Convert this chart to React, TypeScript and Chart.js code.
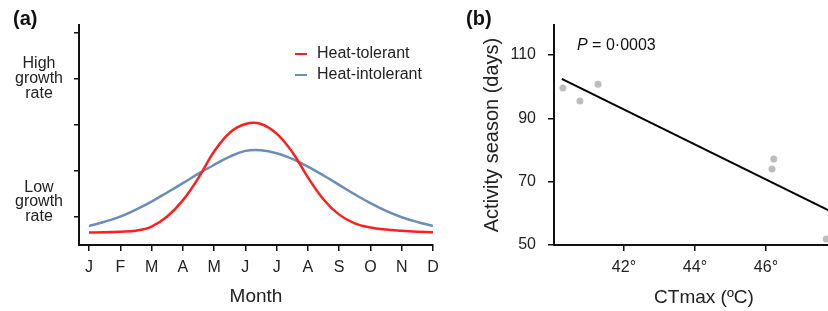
import React, { useEffect, useRef } from 'react';
import { Chart, registerables } from 'chart.js';

Chart.register(...registerables);

// ---------- Panel (a) data ----------
const months = ['J', 'F', 'M', 'A', 'M', 'J', 'J', 'A', 'S', 'O', 'N', 'D'];
const growthTickValues = [1, 2, 3, 4, 5];
const highLabel = ['High', 'growth', 'rate'];
const lowLabel = ['Low', 'growth', 'rate', '', ''];

const curveMonth = [0, 0.5, 1, 1.5, 2, 2.5, 3, 3.5, 4, 4.5, 5, 5.5, 6, 6.5, 7, 7.5, 8, 8.5, 9, 9.5, 10, 10.5, 11];
const tolerantRate = [0.66, 0.667, 0.68, 0.7, 0.79, 1.01, 1.36, 1.85, 2.42, 2.83, 3.02, 3.02, 2.81, 2.41, 1.86, 1.38, 1.05, 0.86, 0.77, 0.725, 0.7, 0.68, 0.665];
const intolerantRate = [0.804, 0.895, 1.007, 1.16, 1.333, 1.53, 1.733, 1.94, 2.13, 2.31, 2.435, 2.45, 2.385, 2.26, 2.093, 1.9, 1.696, 1.49, 1.298, 1.13, 0.993, 0.89, 0.804];

// ---------- Panel (b) data ----------
const ctmax = [40.28, 40.76, 41.27, 46.17, 46.22, 47.7];
const season = [99.6, 95.5, 100.8, 74.0, 77.2, 51.9];
const fitX = [40.25, 48.48];
const fitY = [102.5, 57.0];
const ctmaxTicks = [42, 44, 46];
const seasonTicks = [50, 70, 90, 110];

const FONT = "'Liberation Sans', Arial, Helvetica, sans-serif";
const TXT = '#222';
const RED = '#ff1e1e';
const BLUE = '#6a8dbb';

function panelLabel(text: string, x: number, y: number) {
  return {
    id: 'panelLabel' + text,
    afterDraw(chart: any) {
      const ctx = chart.ctx;
      ctx.save();
      ctx.fillStyle = '#111';
      ctx.font = `bold 20px ${FONT}`;
      ctx.textAlign = 'left';
      ctx.textBaseline = 'middle';
      ctx.fillText(text, x, y);
      ctx.restore();
    },
  };
}

const legendPlugin = {
  id: 'inlineLegend',
  afterDraw(chart: any) {
    const ctx = chart.ctx;
    const ca = chart.chartArea;
    ctx.save();
    chart.data.datasets.forEach((ds: any, i: number) => {
      const y = ca.top + 29 + i * 21;
      const x0 = ca.left + 216;
      ctx.strokeStyle = ds.borderColor;
      ctx.lineWidth = 2;
      ctx.beginPath();
      ctx.moveTo(x0, y);
      ctx.lineTo(x0 + 12, y);
      ctx.stroke();
      ctx.fillStyle = TXT;
      ctx.font = `16px ${FONT}`;
      ctx.textAlign = 'left';
      ctx.textBaseline = 'middle';
      ctx.fillText(ds.label, x0 + 22, y);
    });
    ctx.restore();
  },
};

const pValuePlugin = {
  id: 'pValue',
  afterDraw(chart: any) {
    const ctx = chart.ctx;
    const ca = chart.chartArea;
    const x = ca.left + 23;
    const y = ca.top + 21;
    ctx.save();
    ctx.fillStyle = '#111';
    ctx.textAlign = 'left';
    ctx.textBaseline = 'middle';
    ctx.font = `italic 16px ${FONT}`;
    ctx.fillText('P', x, y);
    const w = ctx.measureText('P').width;
    ctx.font = `16px ${FONT}`;
    ctx.fillText(' = 0·0003', x + w, y);
    ctx.restore();
  },
};

const axisGrid = (len: number) => ({
  display: true,
  drawOnChartArea: false,
  drawTicks: true,
  tickLength: len,
  color: '#111',
  lineWidth: 1.5,
});
const axisBorder = { display: true, color: '#111', width: 2 };

export default function App() {
  const refA = useRef<HTMLCanvasElement>(null);
  const refB = useRef<HTMLCanvasElement>(null);

  useEffect(() => {
    const chartA = new Chart(refA.current as HTMLCanvasElement, {
      type: 'line',
      data: {
        datasets: [
          {
            label: 'Heat-tolerant',
            data: curveMonth.map((m, i) => ({ x: m, y: tolerantRate[i] })),
            borderColor: RED,
            borderWidth: 2.5,
            pointRadius: 0,
            tension: 0.4,
            fill: false,
          },
          {
            label: 'Heat-intolerant',
            data: curveMonth.map((m, i) => ({ x: m, y: intolerantRate[i] })),
            borderColor: BLUE,
            borderWidth: 2.5,
            pointRadius: 0,
            tension: 0.4,
            fill: false,
          },
        ],
      },
      options: {
        responsive: false,
        animation: false,
        layout: { padding: { top: 25, right: 27, left: 0, bottom: 0 } },
        plugins: { legend: { display: false }, tooltip: { enabled: false } },
        scales: {
          x: {
            type: 'linear',
            min: -0.32,
            max: 11,
            afterBuildTicks: (s: any) => {
              s.ticks = months.map((_, i) => ({ value: i }));
            },
            afterFit: (s: any) => {
              s.height = 66;
            },
            ticks: {
              callback: (v: any) => months[Math.round(v)],
              autoSkip: false,
              maxRotation: 0,
              padding: 7,
              color: TXT,
              font: { family: FONT, size: 16 },
            },
            grid: axisGrid(6),
            border: axisBorder,
            title: {
              display: true,
              text: 'Month',
              color: TXT,
              font: { family: FONT, size: 19 },
              padding: { top: 0, bottom: 3 },
            },
          },
          y: {
            type: 'linear',
            min: 0.39,
            max: 5.17,
            afterBuildTicks: (s: any) => {
              s.ticks = growthTickValues.map((v) => ({ value: v }));
            },
            afterFit: (s: any) => {
              s.width = 79;
            },
            ticks: {
              callback: (v: any) => (v === 4 ? highLabel : v === 1 ? lowLabel : ''),
              autoSkip: false,
              crossAlign: 'center',
              padding: 11,
              color: TXT,
              font: { family: FONT, size: 16, lineHeight: 0.93 },
            },
            grid: axisGrid(5),
            border: axisBorder,
          },
        },
      } as any,
      plugins: [legendPlugin, panelLabel('(a)', 13, 19)],
    });

    const chartB = new Chart(refB.current as HTMLCanvasElement, {
      type: 'scatter',
      data: {
        datasets: [
          {
            type: 'line',
            label: 'Fit',
            data: fitX.map((x, i) => ({ x, y: fitY[i] })),
            borderColor: '#000',
            borderWidth: 2,
            pointRadius: 0,
            fill: false,
          } as any,
          {
            label: 'Species',
            data: ctmax.map((x, i) => ({ x, y: season[i] })),
            backgroundColor: '#bdbdbd',
            borderWidth: 0,
            pointRadius: 3.5,
          },
        ],
      },
      options: {
        responsive: false,
        animation: false,
        layout: { padding: { top: 25, right: 26, left: 0, bottom: 0 } },
        plugins: { legend: { display: false }, tooltip: { enabled: false } },
        scales: {
          x: {
            type: 'linear',
            min: 40.03,
            max: 48.48,
            afterBuildTicks: (s: any) => {
              s.ticks = ctmaxTicks.map((v) => ({ value: v }));
            },
            afterFit: (s: any) => {
              s.height = 66;
            },
            ticks: {
              callback: (v: any) => v + '°',
              autoSkip: false,
              maxRotation: 0,
              padding: 7,
              color: TXT,
              font: { family: FONT, size: 16 },
            },
            grid: axisGrid(6),
            border: axisBorder,
            title: {
              display: true,
              text: 'CTmax (ºC)',
              color: TXT,
              font: { family: FONT, size: 19 },
              padding: { top: 0, bottom: 2 },
            },
          },
          y: {
            type: 'linear',
            min: 50,
            max: 119.5,
            afterBuildTicks: (s: any) => {
              s.ticks = seasonTicks.map((v) => ({ value: v }));
            },
            afterFit: (s: any) => {
              s.width = 94;
            },
            ticks: {
              autoSkip: false,
              padding: 12,
              color: TXT,
              font: { family: FONT, size: 16 },
            },
            grid: axisGrid(6),
            border: axisBorder,
            title: {
              display: true,
              text: 'Activity season (days)',
              color: TXT,
              font: { family: FONT, size: 20 },
              padding: { top: 20, bottom: 0 },
            },
          },
        },
      } as any,
      plugins: [pValuePlugin, panelLabel('(b)', 6, 19)],
    });

    return () => {
      chartA.destroy();
      chartB.destroy();
    };
  }, []);

  return (
    <div
      style={{
        position: 'fixed',
        left: 0,
        top: 0,
        width: 828,
        height: 311,
        overflow: 'hidden',
        background: '#fff',
      }}
    >
      <canvas
        ref={refA}
        width={460}
        height={311}
        style={{ position: 'absolute', left: 0, top: 0, width: 460, height: 311 }}
      />
      <canvas
        ref={refB}
        width={420}
        height={311}
        style={{ position: 'absolute', left: 460, top: 0, width: 420, height: 311 }}
      />
    </div>
  );
}
